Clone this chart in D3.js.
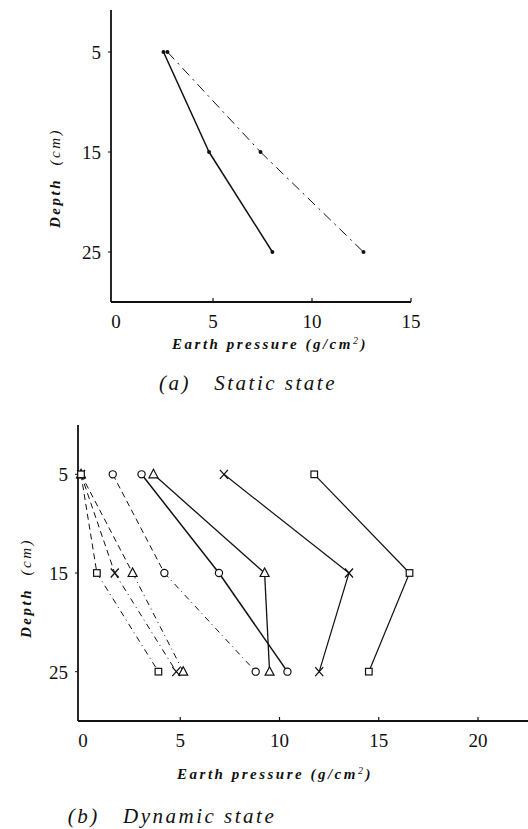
<!DOCTYPE html>
<html lang="en">
<head>
<meta charset="UTF-8">
<title>Earth pressure vs depth</title>
<script src="https://d3js.org/d3.v7.min.js"></script>
<style>
    body { margin: 0; background: #fff; }
    svg { display: block; }
    .tick-label { font-family: 'Liberation Serif', 'Times New Roman', 'DejaVu Serif', serif; font-size: 19px; fill: #111; }
    .axis-title { font-family: 'Liberation Serif', 'Times New Roman', 'DejaVu Serif', serif; font-size: 15px; font-style: italic; font-weight: bold; fill: #111; letter-spacing: 2.5px; }
    .caption { font-family: 'Liberation Serif', 'Times New Roman', 'DejaVu Serif', serif; font-size: 21px; font-style: italic; fill: #111; letter-spacing: 2.5px; }
    .axis-line { stroke: #111; stroke-width: 1.8; fill: none; }
    .series { fill: none; stroke: #111; }
    .marker { fill: #fff; stroke: #111; stroke-width: 1.2; }
</style>
</head>
<body>
<svg width="528" height="829"></svg>
<script>
// depths shared by both panels
const depths = [5, 15, 25];
const yTicks = [5, 15, 25];

// (a) static state
const staticXTicks = [0, 5, 10, 15];
const staticSolid = [2.5, 4.8, 8.0];
const staticDashDot = [2.7, 7.4, 12.6];

// (b) dynamic state
const dynXTicks = [0, 5, 10, 15, 20];
const dynSquareDashed = [0, 0.8, 3.9];
const dynCrossDashed = [0, 1.7, 4.8];
const dynTriangleDashed = [0, 2.6, 5.15];
const dynCircleDashed = [1.6, 4.2, 8.8];
const dynCircleSolid = [3.05, 6.95, 10.4];
const dynTriangleSolid = [3.65, 9.25, 9.5];
const dynCrossSolid = [7.2, 13.5, 12.0];
const dynSquareSolid = [11.75, 16.55, 14.5];

const svg = d3.select("svg");

function marker(g, type, x, y) {
    if (type === "dot") {
        g.append("circle").attr("cx", x).attr("cy", y).attr("r", 2).attr("fill", "#111");
    } else if (type === "circle") {
        g.append("circle").attr("cx", x).attr("cy", y).attr("r", 3.6).attr("class", "marker");
    } else if (type === "square") {
        g.append("rect").attr("x", x - 3.3).attr("y", y - 3.3).attr("width", 6.6).attr("height", 6.6).attr("class", "marker");
    } else if (type === "triangle") {
        g.append("path").attr("d", `M${x},${y - 5}L${x + 4.5},${y + 3.5}L${x - 4.5},${y + 3.5}Z`).attr("class", "marker");
    } else if (type === "cross") {
        g.append("path").attr("d", `M${x - 4},${y - 4.5}L${x + 4},${y + 4.5}M${x + 4},${y - 4.5}L${x - 4},${y + 4.5}`)
            .attr("stroke", "#111").attr("stroke-width", 1.3).attr("fill", "none");
    }
}

function drawSeries(g, x, y, values, type, dashes, width) {
    const pts = values.map((v, i) => [x(v), y(depths[i])]);
    for (let i = 0; i < pts.length - 1; i++) {
        g.append("line")
            .attr("class", "series")
            .attr("x1", pts[i][0]).attr("y1", pts[i][1])
            .attr("x2", pts[i + 1][0]).attr("y2", pts[i + 1][1])
            .attr("stroke-width", width)
            .attr("stroke-dasharray", dashes[i]);
    }
    pts.forEach(p => marker(g, type, p[0], p[1]));
}

function panel(opts) {
    const g = svg.append("g");
    const x = d3.scaleLinear().domain([0, opts.xMax]).range(opts.xRange);
    const y = d3.scaleLinear().domain([0, 30]).range(opts.yRange);

    // axes
    g.append("line").attr("class", "axis-line")
        .attr("x1", opts.axisX).attr("y1", opts.axisTop).attr("x2", opts.axisX).attr("y2", y(30));
    g.append("line").attr("class", "axis-line")
        .attr("x1", opts.axisX).attr("y1", y(30)).attr("x2", opts.axisRight).attr("y2", y(30));

    opts.xTicks.forEach(t => {
        if (t > 0) {
            g.append("line").attr("x1", x(t)).attr("x2", x(t))
                .attr("y1", y(30)).attr("y2", y(30) - 4).attr("stroke", "#111").attr("stroke-width", 1.2);
        }
        g.append("text").attr("class", "tick-label")
            .attr("x", x(t) + (t === 0 ? 2 : 0)).attr("y", y(30) + 26)
            .attr("text-anchor", "middle").text(t);
    });
    yTicks.forEach(t => {
        g.append("line").attr("x1", opts.axisX).attr("x2", opts.axisX - 3)
            .attr("y1", y(t)).attr("y2", y(t)).attr("stroke", "#111").attr("stroke-width", 1);
        g.append("text").attr("class", "tick-label")
            .attr("x", opts.axisX - 10).attr("y", y(t) + 7)
            .attr("text-anchor", "end").text(t);
    });

    const yt = g.append("text").attr("class", "axis-title")
        .attr("transform", `translate(${opts.yTitle[0]},${opts.yTitle[1]}) rotate(-90)`)
        .attr("text-anchor", "middle").attr("xml:space", "preserve");
    yt.append("tspan").text("Depth  ");
    yt.append("tspan").attr("font-weight", "normal").text("(cm)");

    const xt = g.append("text").attr("class", "axis-title")
        .attr("x", opts.xTitle[0]).attr("y", opts.xTitle[1])
        .attr("text-anchor", "middle");
    xt.append("tspan").text("Earth pressure (g/cm");
    xt.append("tspan").attr("font-size", 10).attr("font-weight", "normal").attr("dy", -5).text("2");
    xt.append("tspan").attr("dy", 5).text(")");

    g.append("text").attr("class", "caption")
        .attr("x", opts.caption[0]).attr("y", opts.caption[1])
        .attr("text-anchor", "middle").attr("xml:space", "preserve")
        .text(opts.captionText);

    return { g, x, y };
}

// (a) static
const a = panel({
    xMax: 15, xRange: [114, 411], yRange: [2, 302],
    axisX: 111, axisTop: 10, axisRight: 411,
    xTicks: staticXTicks,
    yTitle: [60, 178], xTitle: [270, 349], caption: [248, 390],
    captionText: "(a)   Static state"
});
drawSeries(a.g, a.x, a.y, staticSolid, "dot", ["", ""], 1.5);
drawSeries(a.g, a.x, a.y, staticDashDot, "dot", ["10,5,2,5", "10,5,2,5"], 1);

// (b) dynamic
const b = panel({
    xMax: 20, xRange: [81, 478], yRange: [425, 721],
    axisX: 78, axisTop: 425, axisRight: 528,
    xTicks: dynXTicks,
    yTitle: [31, 588], xTitle: [275, 779], caption: [172, 823],
    captionText: "(b)   Dynamic state"
});
const dashA = ["6,4", "6,4,1,4"];
drawSeries(b.g, b.x, b.y, dynCircleDashed, "circle", dashA, 1);
drawSeries(b.g, b.x, b.y, dynTriangleDashed, "triangle", dashA, 1);
drawSeries(b.g, b.x, b.y, dynCrossDashed, "cross", dashA, 1);
drawSeries(b.g, b.x, b.y, dynSquareDashed, "square", dashA, 1);
drawSeries(b.g, b.x, b.y, dynCircleSolid, "circle", ["", ""], 1.5);
drawSeries(b.g, b.x, b.y, dynTriangleSolid, "triangle", ["", ""], 1.3);
drawSeries(b.g, b.x, b.y, dynCrossSolid, "cross", ["", ""], 1.2);
drawSeries(b.g, b.x, b.y, dynSquareSolid, "square", ["", ""], 1.2);
</script>
</body>
</html>
